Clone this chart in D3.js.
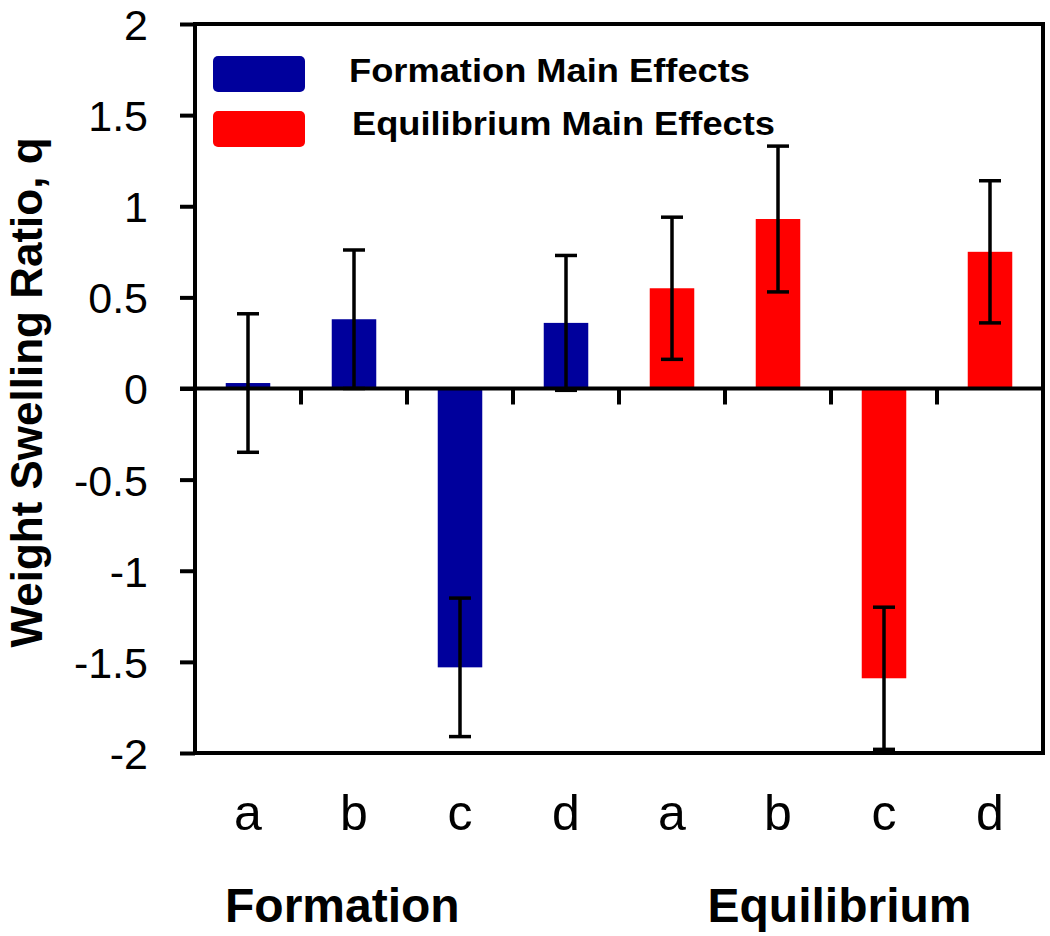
<!DOCTYPE html>
<html>
<head>
<meta charset="utf-8">
<script src="https://cdn.jsdelivr.net/npm/d3@7"></script>
<style>
  html, body { margin: 0; padding: 0; background: #fff; }
  svg { display: block; }
  text { font-family: "Liberation Sans", Arial, sans-serif; fill: #000; }
</style>
</head>
<body>
<svg id="chart" width="1050" height="936"></svg>
<script>
// ---- data ----
const categories = ["a", "b", "c", "d", "a", "b", "c", "d"];
const groupNames = ["Formation", "Equilibrium"];
const formationValues = [0.03, 0.38, -1.53, 0.36];
const formationErrors = [0.38, 0.38, 0.38, 0.37];
const equilibriumValues = [0.55, 0.93, -1.59, 0.75];
const equilibriumErrors = [0.39, 0.40, 0.39, 0.39];
const yTickValues = [-2, -1.5, -1, -0.5, 0, 0.5, 1, 1.5, 2];
const yTickLabels = ["-2", "-1.5", "-1", "-0.5", "0", "0.5", "1", "1.5", "2"];
const legendLabels = ["Formation Main Effects", "Equilibrium Main Effects"];
const yAxisTitle = "Weight Swelling Ratio, q";

(function () {
// ---- build rows ----
const rows = [];
formationValues.forEach((v, i) => rows.push({ key: "F" + i, label: categories[i], group: 0, value: v, err: formationErrors[i] }));
equilibriumValues.forEach((v, i) => rows.push({ key: "E" + i, label: categories[i + 4], group: 1, value: v, err: equilibriumErrors[i] }));

const colors = ["#00009c", "#ff0000"];

const svg = d3.select("#chart");
const mLeft = 195, mRight = 1043, mTop = 24, mBottom = 753;

const x = d3.scaleBand().domain(rows.map(d => d.key)).range([mLeft, mRight]).padding(0);
const y = d3.scaleLinear().domain([-2, 2]).range([mBottom, mTop]);
const barW = x.bandwidth() * 0.42;

// bars
svg.append("g").selectAll("rect").data(rows).join("rect")
  .attr("x", d => x(d.key) + (x.bandwidth() - barW) / 2)
  .attr("width", barW)
  .attr("y", d => y(Math.max(0, d.value)))
  .attr("height", d => Math.abs(y(d.value) - y(0)))
  .attr("fill", d => colors[d.group]);

// error bars
const eb = svg.append("g").attr("stroke", "#000").attr("stroke-width", 3.5);
const capW = 22;
rows.forEach(d => {
  const cx = x(d.key) + x.bandwidth() / 2;
  const y1 = y(d.value + d.err), y2 = y(d.value - d.err);
  eb.append("line").attr("x1", cx).attr("x2", cx).attr("y1", y1).attr("y2", y2);
  eb.append("line").attr("x1", cx - capW / 2).attr("x2", cx + capW / 2).attr("y1", y1).attr("y2", y1);
  eb.append("line").attr("x1", cx - capW / 2).attr("x2", cx + capW / 2).attr("y1", y2).attr("y2", y2);
});

// frame
svg.append("rect").attr("x", mLeft).attr("y", mTop).attr("width", mRight - mLeft).attr("height", mBottom - mTop)
  .attr("fill", "none").attr("stroke", "#000").attr("stroke-width", 4);

// y axis
const yAxis = d3.axisLeft(y).tickValues(yTickValues)
  .tickFormat((d, i) => yTickLabels[i]).tickSize(15).tickPadding(32);
const gy = svg.append("g").attr("transform", `translate(${mLeft},0)`).call(yAxis);
gy.select(".domain").remove();
gy.selectAll(".tick line").attr("stroke", "#000").attr("stroke-width", 4);
gy.selectAll(".tick text").attr("font-size", 43).attr("font-family", "Liberation Sans, Arial, sans-serif").attr("dy", "0.36em");

// zero line
svg.append("line").attr("x1", mLeft - 15).attr("x2", mRight).attr("y1", y(0)).attr("y2", y(0))
  .attr("stroke", "#000").attr("stroke-width", 4);

// x ticks between categories at zero line
const boundaries = rows.slice(1).map(d => x(d.key));
svg.append("g").selectAll("line").data(boundaries).join("line")
  .attr("x1", d => d).attr("x2", d => d)
  .attr("y1", y(0)).attr("y2", y(0) + 16)
  .attr("stroke", "#000").attr("stroke-width", 4);

// x category labels
svg.append("g").selectAll("text").data(rows).join("text")
  .attr("x", d => x(d.key) + x.bandwidth() / 2)
  .attr("y", 830)
  .attr("text-anchor", "middle")
  .attr("font-size", 50)
  .text(d => d.label);

// group labels
groupNames.forEach((g, gi) => {
  const ks = rows.filter(d => d.group === gi);
  const cx = gi === 0 ? x(ks[1].key) + x.bandwidth() * 0.39 : x(ks[2].key) + x.bandwidth() * 0.08;
  svg.append("text").attr("x", cx).attr("y", 922).attr("text-anchor", "middle")
    .attr("font-size", 48).attr("font-weight", "bold").text(g);
});

// y axis title
svg.append("text")
  .attr("transform", `translate(42,${(mTop + mBottom) / 2 + 4}) rotate(-90)`)
  .attr("text-anchor", "middle")
  .attr("font-size", 44).attr("font-weight", "bold")
  .text(yAxisTitle);

// legend
const legendY = [56, 111];
const legendBase = [82, 135];
const legendTextLen = [401, 423];
legendLabels.forEach((lab, i) => {
  svg.append("rect").attr("x", 213).attr("y", legendY[i]).attr("width", 92).attr("height", 36)
    .attr("rx", 5).attr("fill", colors[i]);
  svg.append("text").attr("x", i === 0 ? 349 : 352).attr("y", legendBase[i])
    .attr("font-size", 33).attr("font-weight", "bold")
    .attr("textLength", legendTextLen[i]).attr("lengthAdjust", "spacingAndGlyphs")
    .text(lab);
});
})();
</script>
</body>
</html>
